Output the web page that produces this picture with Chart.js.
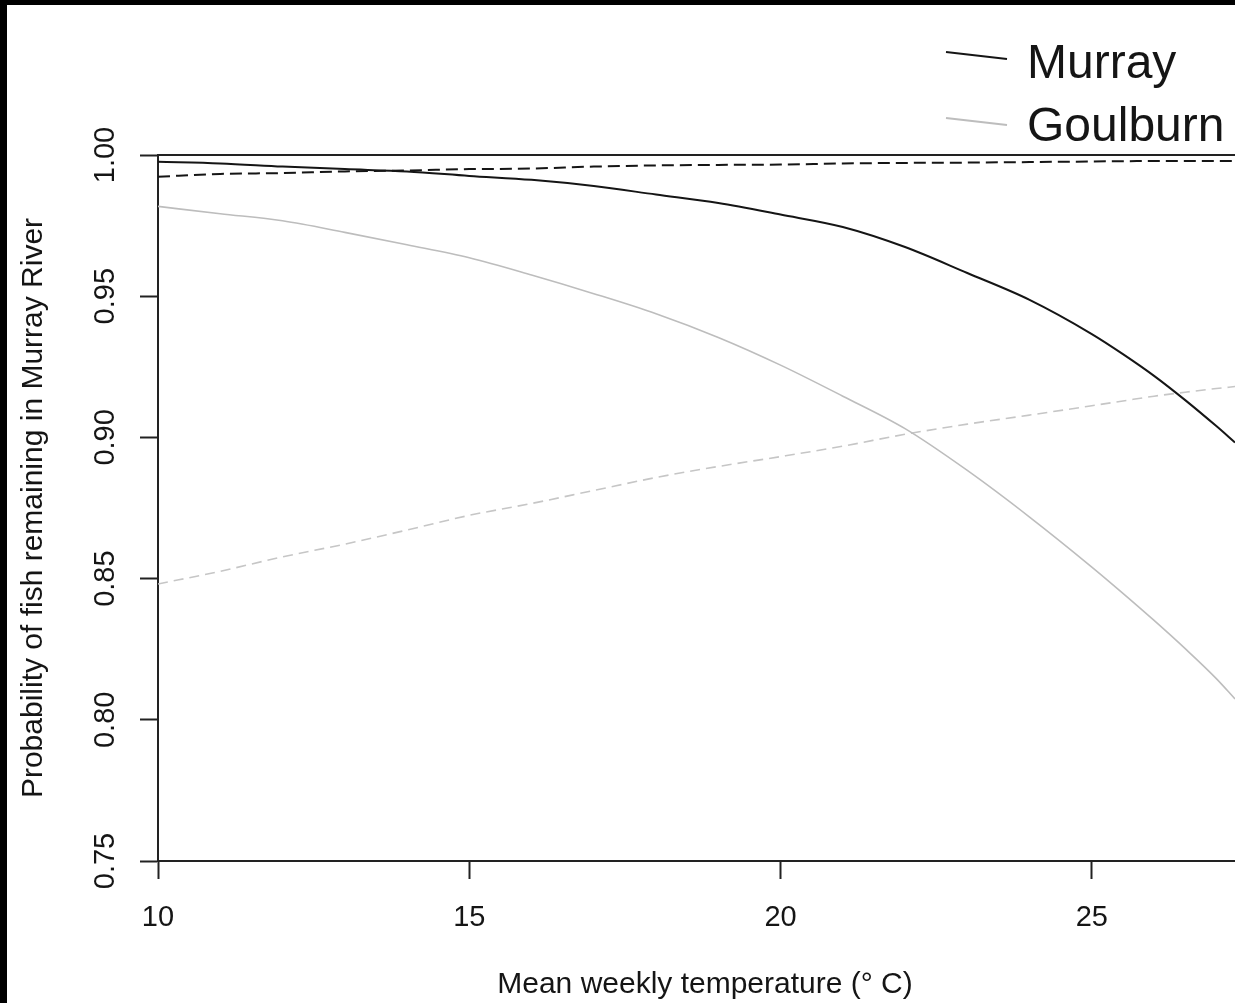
<!DOCTYPE html>
<html>
<head>
<meta charset="utf-8">
<script src="https://cdn.jsdelivr.net/npm/chart.js@4/dist/chart.umd.min.js"></script>
<style>
  html, body { margin: 0; padding: 0; background: #000; width: 1235px; height: 1003px; overflow: hidden; }
  #wrap { position: absolute; left: 7px; top: 5px; width: 1228px; height: 998px; background: #fff; }
  canvas { display: block; }
</style>
</head>
<body>
<div id="wrap"><canvas id="c" width="1228" height="998"></canvas></div>
<script>
// ---- data ----
const temperature = [10, 11, 12, 13, 14, 15, 16, 17, 18, 19, 20, 21, 22, 23, 24, 25, 25.5, 26, 26.5, 27, 27.3];
const murraySolid = [0.9976, 0.9970, 0.9959, 0.9950, 0.9942, 0.9926, 0.9912, 0.9890, 0.9860, 0.9830, 0.9789, 0.9745, 0.9674, 0.9582, 0.9487, 0.9366, 0.9295, 0.9218, 0.9132, 0.9040, 0.8982];
const murrayDashed = [0.9923, 0.9933, 0.9936, 0.9942, 0.9945, 0.9950, 0.9952, 0.9959, 0.9963, 0.9965, 0.9966, 0.9970, 0.9972, 0.9973, 0.9975, 0.9977, 0.9978, 0.9979, 0.9979, 0.9979, 0.9979];
const goulburnSolid = [0.9818, 0.9792, 0.9767, 0.9726, 0.9682, 0.9636, 0.9575, 0.9509, 0.9438, 0.9354, 0.9256, 0.9146, 0.9031, 0.8883, 0.8718, 0.8541, 0.8448, 0.8352, 0.8252, 0.8146, 0.8074];
const goulburnDashed = [0.8481, 0.8526, 0.8577, 0.8622, 0.8672, 0.8724, 0.8766, 0.8812, 0.8858, 0.8897, 0.8932, 0.8969, 0.9011, 0.9047, 0.9079, 0.9112, 0.9129, 0.9146, 0.9160, 0.9173, 0.9180];
const xTickValues = [10, 15, 20, 25];
const xTickLabels = ['10', '15', '20', '25'];
const yTickValues = [0.75, 0.80, 0.85, 0.90, 0.95, 1.00];
const yTickLabels = ['0.75', '0.80', '0.85', '0.90', '0.95', '1.00'];
const legendLabels = ['Murray', 'Goulburn'];
const referenceLevel = 1.0;
const xTitle = 'Mean weekly temperature (\u00B0 C)';
const yTitle = 'Probability of fish remaining in Murray River';

const FONT = "'Liberation Sans', Arial, Helvetica, sans-serif";
const BLACK = '#151515';
const GREY = '#bdbdbd';

function pts(ys) { return temperature.map((t, i) => ({ x: t, y: ys[i] })); }

const decorPlugin = {
  id: 'decor',
  afterDraw(chart) {
    const ctx = chart.ctx, ys = chart.scales.y, area = chart.chartArea;
    ctx.save();
    // horizontal line at 1.0
    const yr = ys.getPixelForValue(referenceLevel);
    ctx.strokeStyle = '#222'; ctx.lineWidth = 2;
    ctx.beginPath(); ctx.moveTo(area.left, yr); ctx.lineTo(area.right, yr); ctx.stroke();
    // rotated y tick labels
    ctx.fillStyle = BLACK;
    ctx.font = '29px ' + FONT;
    ctx.textAlign = 'center'; ctx.textBaseline = 'middle';
    yTickValues.forEach((v, i) => {
      const py = ys.getPixelForValue(v);
      ctx.save();
      ctx.translate(99, py);
      ctx.rotate(-Math.PI / 2);
      ctx.fillText(yTickLabels[i], 0, 0);
      ctx.restore();
    });
    // x axis title
    ctx.font = '30px ' + FONT;
    ctx.fillText(xTitle, 698, 980);
    // legend
    ctx.font = '48px ' + FONT;
    ctx.textAlign = 'left'; ctx.textBaseline = 'alphabetic';
    const legendItems = [
      { color: BLACK, y1: 47, y2: 54, base: 73, text: legendLabels[0] },
      { color: GREY, y1: 113, y2: 120, base: 136, text: legendLabels[1] }
    ];
    legendItems.forEach(it => {
      ctx.strokeStyle = it.color; ctx.lineWidth = 2;
      ctx.beginPath(); ctx.moveTo(939, it.y1); ctx.lineTo(1000, it.y2); ctx.stroke();
      ctx.fillStyle = BLACK;
      ctx.fillText(it.text, 1020, it.base);
    });
    ctx.restore();
  }
};

new Chart(document.getElementById('c'), {
  type: 'line',
  data: {
    datasets: [
      { label: 'Murray', data: pts(murraySolid), borderColor: BLACK, borderWidth: 2, pointRadius: 0, cubicInterpolationMode: 'monotone' },
      { label: 'Murray (dashed)', data: pts(murrayDashed), borderColor: BLACK, borderWidth: 2, borderDash: [12, 6], pointRadius: 0, cubicInterpolationMode: 'monotone' },
      { label: 'Goulburn', data: pts(goulburnSolid), borderColor: GREY, borderWidth: 1.6, pointRadius: 0, cubicInterpolationMode: 'monotone' },
      { label: 'Goulburn (dashed)', data: pts(goulburnDashed), borderColor: '#c6c6c6', borderWidth: 1.6, borderDash: [10, 6], pointRadius: 0, cubicInterpolationMode: 'monotone' }
    ]
  },
  options: {
    responsive: false,
    animation: false,
    devicePixelRatio: 1,
    layout: { padding: { top: 150, right: 0, bottom: 0, left: 0 } },
    plugins: { legend: { display: false }, tooltip: { enabled: false } },
    scales: {
      x: {
        type: 'linear', min: 10, max: 27.3,
        afterBuildTicks: s => { s.ticks = xTickValues.map(v => ({ value: v })); },
        afterFit: s => { s.height = 142; },
        grid: { drawOnChartArea: false, drawTicks: true, tickLength: 18, tickWidth: 2, tickColor: '#222' },
        border: { display: true, color: '#222', width: 2 },
        ticks: {
          color: BLACK, font: { family: FONT, size: 29 }, padding: 22, maxRotation: 0, autoSkip: false,
          callback: (v) => { const i = xTickValues.indexOf(v); return i >= 0 ? xTickLabels[i] : ''; }
        }
      },
      y: {
        type: 'linear', min: 0.75, max: 1.0,
        afterBuildTicks: s => { s.ticks = yTickValues.map(v => ({ value: v })); },
        afterFit: s => { s.width = 151; },
        grid: { drawOnChartArea: false, drawTicks: true, tickLength: 18, tickWidth: 2, tickColor: '#222' },
        border: { display: true, color: '#222', width: 2 },
        ticks: { color: 'rgba(0,0,0,0)', font: { family: FONT, size: 29 } },
        title: { display: true, text: yTitle, color: BLACK, font: { family: FONT, size: 30 }, padding: { top: 9, bottom: 0 } }
      }
    }
  },
  plugins: [decorPlugin]
});
</script>
</body>
</html>
